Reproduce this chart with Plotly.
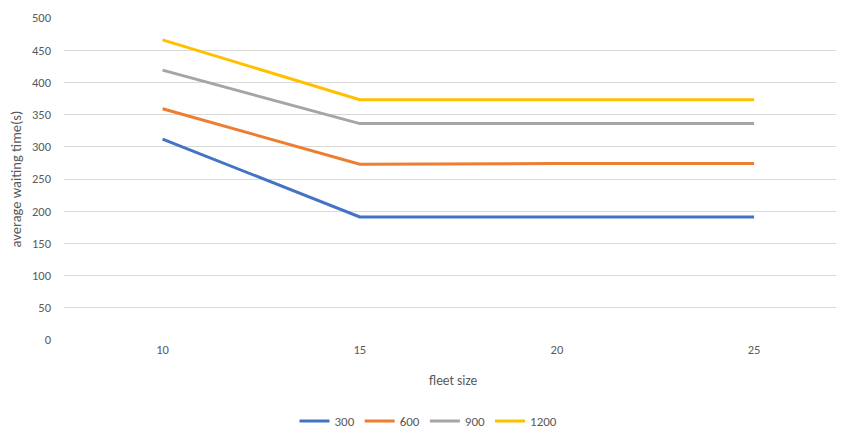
import plotly.graph_objects as go

fleet_size = ["10", "15", "20", "25"]
series_names = ["300", "600", "900", "1200"]
s300 = [312, 191, 191, 191]
s600 = [359, 273, 274, 274]
s900 = [419, 336, 336, 336]
s1200 = [466, 373, 373, 373]
y_ticks = [0, 50, 100, 150, 200, 250, 300, 350, 400, 450, 500]

colors = ["#4472C4", "#ED7D31", "#A5A5A5", "#FFC000"]
values = [s300, s600, s900, s1200]

fig = go.Figure()
for name, vals, c in zip(series_names, values, colors):
    fig.add_trace(go.Scatter(
        x=list(range(len(fleet_size))), y=vals, name=name, mode="lines",
        line=dict(color=c, width=3)))

font = dict(family="Carlito, Calibri, 'Open Sans', sans-serif", size=12.5, color="#595959")

# page body has an 8px margin, so the figure is sized/offset accordingly
fig.update_layout(
    width=836, height=421,
    margin=dict(l=56, r=0, t=10, b=89),
    paper_bgcolor="white", plot_bgcolor="white",
    font=font,
    showlegend=True,
    legend=dict(orientation="h", xref="container", yref="container",
                x=0.503, y=0.019, xanchor="center", yanchor="middle",
                font=dict(size=13, color="#595959"), itemwidth=30,
                tracegroupgap=0),
    xaxis=dict(range=[-0.5, 3.456], tickmode="array",
               tickvals=list(range(len(fleet_size))), ticktext=fleet_size,
               showgrid=False, zeroline=False, showline=False, ticks="",
               tickfont=font),
    yaxis=dict(range=[0, 500], tickvals=y_ticks, showgrid=True,
               gridcolor="#D9D9D9", gridwidth=1, zeroline=False,
               showline=False, ticks="", tickfont=font, ticklabelstandoff=12),
    annotations=[
        dict(text="fleet size", xref="paper", yref="paper", x=0.499,
             y=-40 / 322, xanchor="center", yanchor="middle",
             showarrow=False, font=dict(size=13.5, color="#595959")),
        dict(text="average waiting time(s)", xref="paper", yref="paper",
             x=-0.061, y=0.5, xanchor="center", yanchor="middle",
             textangle=-90, showarrow=False,
             font=dict(size=14.5, color="#595959")),
    ],
)

fig.write_html("out.html")
